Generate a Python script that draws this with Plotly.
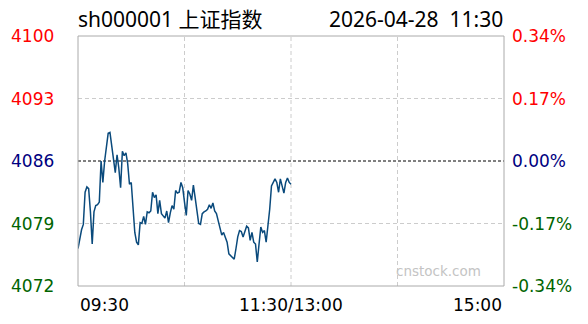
import plotly.graph_objects as go

# ---- data ----
minutes = list(range(121))  # minutes after 09:30
price = [
    4076.2, 4077.3, 4078.3, 4078.9, 4082.5, 4083.1, 4082.9, 4080.3, 4076.7, 4080.3,
    4081.0, 4081.1, 4081.4, 4086.0, 4083.6, 4086.0, 4087.7, 4089.1, 4089.2, 4087.7,
    4086.0, 4084.7, 4086.7, 4085.2, 4083.0, 4087.1, 4086.6, 4086.9, 4085.7, 4083.4,
    4083.6, 4080.8, 4078.0, 4076.9, 4076.6, 4079.1, 4079.0, 4079.8, 4078.9, 4080.3,
    4080.2, 4080.4, 4082.5, 4081.9, 4082.2, 4080.1, 4081.6, 4080.1, 4079.8, 4079.6,
    4080.4, 4079.1, 4080.2, 4081.0, 4080.6, 4082.7, 4082.4, 4082.5, 4083.6, 4083.0,
    4081.4, 4079.9, 4082.7, 4082.3, 4081.6, 4083.3, 4081.9, 4080.1, 4079.0, 4078.9,
    4080.1, 4080.3, 4080.4, 4080.6, 4081.1, 4080.7, 4081.3, 4080.4, 4080.1, 4079.3,
    4078.3, 4077.7, 4078.0, 4077.3, 4076.9, 4075.6, 4075.4, 4075.3, 4075.0, 4076.2,
    4077.5, 4078.2, 4078.1, 4077.5, 4078.2, 4078.7, 4078.5, 4077.1, 4078.0, 4076.9,
    4076.7, 4074.7, 4076.7, 4078.6, 4078.0, 4078.2, 4076.9, 4078.6, 4080.6, 4083.2,
    4083.6, 4084.0, 4083.6, 4082.5, 4084.0, 4083.2, 4082.4, 4083.6, 4084.1, 4083.6,
    4083.4,
]
prev_close = 4086
price_ticks = [4100, 4093, 4086, 4079, 4072]
pct_labels = ["0.34%", "0.17%", "0.00%", "-0.17%", "-0.34%"]
label_colors = ["#ff0000", "#ff0000", "#000080", "#006400", "#006400"]
time_ticks = [0, 120, 240]
time_labels = ["09:30", "11:30/13:00", "15:00"]
grid_minutes = [60, 120, 180]
title_left = "sh000001 上证指数"
title_right = "2026-04-28  11:30"
watermark = "cnstock.com"

FONT = "DejaVu Sans, Noto Sans CJK SC, sans-serif"

fig = go.Figure()
fig.add_trace(go.Scatter(
    x=minutes, y=price, mode="lines",
    line=dict(color="#0a4a7c", width=1.5),
    hoverinfo="skip", showlegend=False,
))

shapes = []
for m in grid_minutes:
    shapes.append(dict(type="line", xref="x", yref="paper", x0=m, x1=m, y0=0, y1=1,
                       line=dict(color="#cccccc", width=1, dash="4px,3px"), layer="below"))
for v in price_ticks[1:-1]:
    if v == prev_close:
        shapes.append(dict(type="line", xref="paper", yref="y", x0=0, x1=1, y0=v, y1=v,
                           line=dict(color="#000000", width=1, dash="3px,2px"), layer="below"))
    else:
        shapes.append(dict(type="line", xref="paper", yref="y", x0=0, x1=1, y0=v, y1=v,
                           line=dict(color="#cccccc", width=1, dash="4px,3px"), layer="below"))
shapes.append(dict(type="rect", xref="paper", yref="paper", x0=0, x1=1, y0=0, y1=1,
                   line=dict(color="#aaaaaa", width=1)))

L, R, T, B = 78, 84, 36, 38
W, H = 588, 324
pw, ph = W - L - R, H - T - B

def px(X):
    return (X - L) / pw

def py(Y):
    return (H - B - Y) / ph

ann = []
for v, pl, c in zip(price_ticks, pct_labels, label_colors):
    ann.append(dict(x=px(54.5), xref="paper", y=v, yref="y", text=str(v),
                    xanchor="right", yanchor="middle", showarrow=False, borderpad=0,
                    font=dict(family=FONT, size=17, color=c)))
    ann.append(dict(x=px(510.5), xref="paper", y=v, yref="y", text=pl,
                    xanchor="left", yanchor="middle", showarrow=False, borderpad=0,
                    font=dict(family=FONT, size=17, color=c)))

anchors = ["left", "center", "right"]
for t, lab, a in zip(time_ticks, time_labels, anchors):
    xx = {"left": 79, "center": 291, "right": 502.5}[a]
    ann.append(dict(x=px(xx), xref="paper", y=py(304.5), yref="paper", text=lab,
                    xanchor=a, yanchor="middle", showarrow=False, borderpad=0,
                    font=dict(family=FONT, size=17, color="#000000")))

ann.append(dict(x=px(77), xref="paper", y=py(19), yref="paper", text=title_left,
                xanchor="left", yanchor="middle", showarrow=False, borderpad=0,
                font=dict(family="Noto Sans, Noto Sans CJK SC, sans-serif", size=21, color="#000000")))
ann.append(dict(x=px(503.5), xref="paper", y=py(19), yref="paper", text=title_right,
                xanchor="right", yanchor="middle", showarrow=False, borderpad=0,
                font=dict(family="Noto Sans, Noto Sans CJK SC, sans-serif", size=21, color="#000000")))
ann.append(dict(x=px(438), xref="paper", y=py(271), yref="paper", text=watermark,
                xanchor="center", yanchor="middle", showarrow=False, borderpad=0,
                font=dict(family=FONT, size=13.5, color="#c4c4c4")))

fig.update_layout(
    width=W, height=H,
    margin=dict(l=L, r=R, t=T, b=B, pad=0),
    paper_bgcolor="#ffffff", plot_bgcolor="#ffffff",
    xaxis=dict(range=[0, 240], showgrid=False, zeroline=False, showticklabels=False,
               showline=False, fixedrange=True),
    yaxis=dict(range=[price_ticks[-1], price_ticks[0]], showgrid=False, zeroline=False,
               showticklabels=False, showline=False, fixedrange=True),
    shapes=shapes, annotations=ann,
)

fig.write_html("out.html", config={"displayModeBar": False})
